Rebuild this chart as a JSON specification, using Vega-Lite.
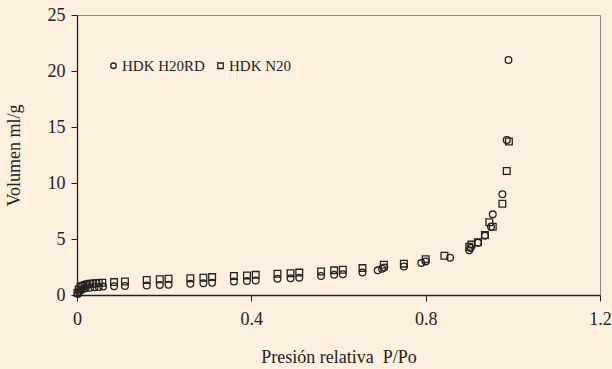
{
  "$schema": "https://vega.github.io/schema/vega-lite/v6.json",
  "width": 523,
  "height": 280,
  "autosize": "none",
  "padding": {"left": 77, "top": 15, "right": 12, "bottom": 74},
  "background": "#FDF0DF",
  "config": {
    "font": "Liberation Serif",
    "view": {"stroke": "#8a8a8a", "strokeWidth": 1}
  },
  "data": {
    "values": [
      {"p": 0.002, "v": 0.1, "s": "HDK H20RD"},
      {"p": 0.005, "v": 0.3, "s": "HDK H20RD"},
      {"p": 0.01, "v": 0.45, "s": "HDK H20RD"},
      {"p": 0.015, "v": 0.55, "s": "HDK H20RD"},
      {"p": 0.02, "v": 0.6, "s": "HDK H20RD"},
      {"p": 0.03, "v": 0.65, "s": "HDK H20RD"},
      {"p": 0.04, "v": 0.7, "s": "HDK H20RD"},
      {"p": 0.05, "v": 0.72, "s": "HDK H20RD"},
      {"p": 0.06, "v": 0.75, "s": "HDK H20RD"},
      {"p": 0.085, "v": 0.78, "s": "HDK H20RD"},
      {"p": 0.11, "v": 0.8, "s": "HDK H20RD"},
      {"p": 0.16, "v": 0.85, "s": "HDK H20RD"},
      {"p": 0.19, "v": 0.9, "s": "HDK H20RD"},
      {"p": 0.21, "v": 0.92, "s": "HDK H20RD"},
      {"p": 0.26, "v": 1.0, "s": "HDK H20RD"},
      {"p": 0.29, "v": 1.05, "s": "HDK H20RD"},
      {"p": 0.31, "v": 1.1, "s": "HDK H20RD"},
      {"p": 0.36, "v": 1.2, "s": "HDK H20RD"},
      {"p": 0.39, "v": 1.25, "s": "HDK H20RD"},
      {"p": 0.41, "v": 1.3, "s": "HDK H20RD"},
      {"p": 0.46, "v": 1.45, "s": "HDK H20RD"},
      {"p": 0.49, "v": 1.5, "s": "HDK H20RD"},
      {"p": 0.51, "v": 1.55, "s": "HDK H20RD"},
      {"p": 0.56, "v": 1.7, "s": "HDK H20RD"},
      {"p": 0.59, "v": 1.8, "s": "HDK H20RD"},
      {"p": 0.61, "v": 1.85, "s": "HDK H20RD"},
      {"p": 0.655, "v": 2.0, "s": "HDK H20RD"},
      {"p": 0.69, "v": 2.2, "s": "HDK H20RD"},
      {"p": 0.7, "v": 2.35, "s": "HDK H20RD"},
      {"p": 0.705, "v": 2.45, "s": "HDK H20RD"},
      {"p": 0.75, "v": 2.55, "s": "HDK H20RD"},
      {"p": 0.79, "v": 2.85, "s": "HDK H20RD"},
      {"p": 0.8, "v": 3.0, "s": "HDK H20RD"},
      {"p": 0.856, "v": 3.33, "s": "HDK H20RD"},
      {"p": 0.9, "v": 4.0, "s": "HDK H20RD"},
      {"p": 0.903, "v": 4.2, "s": "HDK H20RD"},
      {"p": 0.92, "v": 4.67, "s": "HDK H20RD"},
      {"p": 0.936, "v": 5.3, "s": "HDK H20RD"},
      {"p": 0.95, "v": 6.1, "s": "HDK H20RD"},
      {"p": 0.954, "v": 7.2, "s": "HDK H20RD"},
      {"p": 0.976, "v": 9.0, "s": "HDK H20RD"},
      {"p": 0.986, "v": 13.84, "s": "HDK H20RD"},
      {"p": 0.99, "v": 20.98, "s": "HDK H20RD"},
      {"p": 0.001, "v": 0.2, "s": "HDK N20"},
      {"p": 0.004, "v": 0.5, "s": "HDK N20"},
      {"p": 0.008, "v": 0.7, "s": "HDK N20"},
      {"p": 0.012, "v": 0.8, "s": "HDK N20"},
      {"p": 0.018, "v": 0.9, "s": "HDK N20"},
      {"p": 0.024, "v": 0.95, "s": "HDK N20"},
      {"p": 0.03, "v": 1.0, "s": "HDK N20"},
      {"p": 0.037, "v": 1.02, "s": "HDK N20"},
      {"p": 0.044, "v": 1.05, "s": "HDK N20"},
      {"p": 0.05, "v": 1.07, "s": "HDK N20"},
      {"p": 0.058, "v": 1.1, "s": "HDK N20"},
      {"p": 0.085, "v": 1.15, "s": "HDK N20"},
      {"p": 0.11, "v": 1.2, "s": "HDK N20"},
      {"p": 0.16, "v": 1.35, "s": "HDK N20"},
      {"p": 0.19, "v": 1.4, "s": "HDK N20"},
      {"p": 0.21, "v": 1.45, "s": "HDK N20"},
      {"p": 0.26, "v": 1.5, "s": "HDK N20"},
      {"p": 0.29, "v": 1.55, "s": "HDK N20"},
      {"p": 0.31, "v": 1.6, "s": "HDK N20"},
      {"p": 0.36, "v": 1.7, "s": "HDK N20"},
      {"p": 0.39, "v": 1.75, "s": "HDK N20"},
      {"p": 0.41, "v": 1.8, "s": "HDK N20"},
      {"p": 0.46, "v": 1.9, "s": "HDK N20"},
      {"p": 0.49, "v": 1.95, "s": "HDK N20"},
      {"p": 0.51, "v": 2.0, "s": "HDK N20"},
      {"p": 0.56, "v": 2.1, "s": "HDK N20"},
      {"p": 0.59, "v": 2.2, "s": "HDK N20"},
      {"p": 0.61, "v": 2.25, "s": "HDK N20"},
      {"p": 0.655, "v": 2.4, "s": "HDK N20"},
      {"p": 0.704, "v": 2.7, "s": "HDK N20"},
      {"p": 0.75, "v": 2.8, "s": "HDK N20"},
      {"p": 0.8, "v": 3.2, "s": "HDK N20"},
      {"p": 0.843, "v": 3.5, "s": "HDK N20"},
      {"p": 0.9, "v": 4.3, "s": "HDK N20"},
      {"p": 0.905, "v": 4.5, "s": "HDK N20"},
      {"p": 0.92, "v": 4.7, "s": "HDK N20"},
      {"p": 0.936, "v": 5.35, "s": "HDK N20"},
      {"p": 0.946, "v": 6.5, "s": "HDK N20"},
      {"p": 0.954, "v": 6.1, "s": "HDK N20"},
      {"p": 0.976, "v": 8.15, "s": "HDK N20"},
      {"p": 0.986, "v": 11.07, "s": "HDK N20"},
      {"p": 0.991, "v": 13.7, "s": "HDK N20"}
    ]
  },
  "mark": {"type": "point", "filled": false, "stroke": "#222222", "strokeWidth": 1.3, "opacity": 1},
  "encoding": {
    "x": {
      "field": "p", "type": "quantitative",
      "scale": {"domain": [0, 1.2], "nice": false, "zero": false},
      "axis": {
        "values": [0, 0.4, 0.8, 1.2], "format": "~g", "grid": false, "labelFlush": false,
        "title": "Presión relativa\u00a0\u00a0P/Po",
        "domainColor": "#222", "domainWidth": 1.3, "tickColor": "#222", "tickSize": 6,
        "labelFont": "Liberation Serif", "labelFontSize": 18, "labelColor": "#222", "labelPadding": 9,
        "titleFont": "Liberation Serif", "titleFontSize": 18, "titleFontWeight": "normal", "titleColor": "#222", "titlePadding": 20
      }
    },
    "y": {
      "field": "v", "type": "quantitative",
      "scale": {"domain": [0, 25], "nice": false},
      "axis": {
        "values": [0, 5, 10, 15, 20, 25], "grid": false, "labelFlush": false,
        "title": "Volumen ml/g",
        "domainColor": "#222", "domainWidth": 1.3, "tickColor": "#222", "tickSize": 6,
        "labelFont": "Liberation Serif", "labelFontSize": 18, "labelColor": "#222", "labelPadding": 6,
        "titleFont": "Liberation Serif", "titleFontSize": 18, "titleFontWeight": "normal", "titleColor": "#222", "titlePadding": 24
      }
    },
    "shape": {
      "field": "s", "type": "nominal",
      "scale": {"domain": ["HDK H20RD", "HDK N20"], "range": ["circle", "square"]},
      "legend": {
        "orient": "none", "legendX": 29, "legendY": 43, "direction": "horizontal",
        "title": null, "labelFont": "Liberation Serif", "labelFontSize": 15, "labelColor": "#222",
        "symbolSize": 30, "symbolStrokeColor": "#222", "symbolStrokeWidth": 1.3, "symbolFillColor": "transparent",
        "labelOffset": 1, "columnPadding": 8
      }
    },
    "size": {"value": 45}
  }
}
